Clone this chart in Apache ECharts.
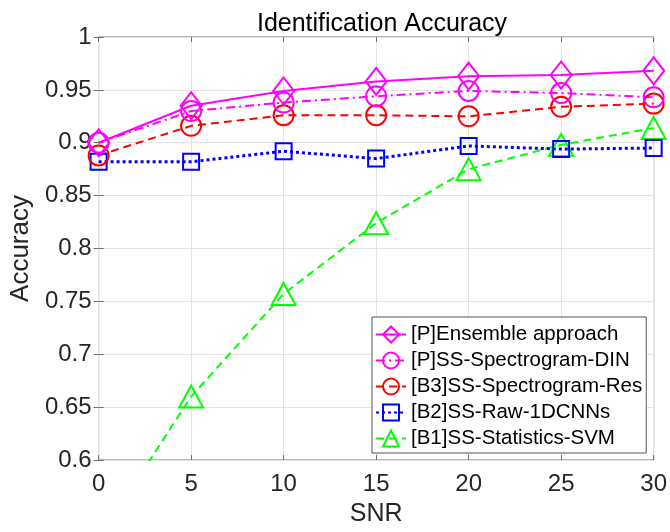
<!DOCTYPE html>
<html>
<head>
<meta charset="utf-8">
<script src="https://cdn.jsdelivr.net/npm/echarts@6/dist/echarts.min.js"></script>
<style>
  html, body { margin: 0; padding: 0; background: #fff; }
  #chart { width: 670px; height: 532px; }
</style>
</head>
<body>
<div id="chart"></div>
<script>
// SNR (dB) on the x axis
const snr = [0, 5, 10, 15, 20, 25, 30];

// accuracy per method
const ensemble = [0.900, 0.935, 0.949, 0.958, 0.963, 0.964, 0.968];
const spectrogramDin = [0.900, 0.930, 0.938, 0.944, 0.949, 0.947, 0.943];
const spectrogramRes = [0.888, 0.916, 0.926, 0.926, 0.925, 0.934, 0.937];
const raw1dcnn = [0.882, 0.882, 0.892, 0.885, 0.897, 0.894, 0.895];
const statisticsSvm = [0.525, 0.660, 0.757, 0.824, 0.875, 0.898, 0.914];

const font = 'Liberation Sans, Arial, sans-serif';
const textColor = '#262626';

// pair snr with values
const toPoints = (vals) => snr.map((x, i) => [x, vals[i]]);

function makeSeries(name, vals, color, lineType, width, symbol, size) {
  return {
    name,
    type: 'line',
    data: toPoints(vals),
    symbol,
    symbolSize: size,
    clip: true,
    lineStyle: { color, width, type: lineType },
    itemStyle: { color: 'rgba(0,0,0,0)', borderColor: color, borderWidth: 2 },
    emphasis: { disabled: true },
  };
}

const chart = echarts.init(document.getElementById('chart'));

const option = {
  animation: false,
  backgroundColor: '#fff',
  title: {
    text: 'Identification Accuracy',
    left: 377,
    textAlign: 'center',
    top: 7,
    textStyle: { fontFamily: font, fontSize: 25, fontWeight: 'normal', color: '#000' },
  },
  grid: {
    left: 98,
    right: 15,
    top: 37,
    bottom: 68,
    show: true,
    borderColor: '#6e6e6e',
    borderWidth: 1,
  },
  legend: {
    orient: 'vertical',
    left: 372,
    top: 317,
    itemWidth: 30,
    itemHeight: 20,
    itemGap: 5,
    padding: [7, 4, 4, 3],
    backgroundColor: '#fff',
    borderColor: '#555',
    borderWidth: 1,
    textStyle: { fontFamily: font, fontSize: 20.5, color: '#000' },
    data: [
      '[P]Ensemble approach',
      '[P]SS-Spectrogram-DIN',
      '[B3]SS-Spectrogram-Res',
      '[B2]SS-Raw-1DCNNs',
      '[B1]SS-Statistics-SVM',
    ],
  },
  xAxis: [
    {
      type: 'value',
      min: 0,
      max: 30,
      interval: 5,
      name: 'SNR',
      nameLocation: 'middle',
      nameGap: 42,
      nameTextStyle: { fontFamily: font, fontSize: 25, color: textColor },
      axisLine: { show: false },
      axisTick: { inside: true, length: 5, lineStyle: { color: '#6e6e6e' } },
      axisLabel: { fontFamily: font, fontSize: 24, color: textColor, margin: 12 },
      splitLine: { show: true, lineStyle: { color: '#e3e3e3', width: 1 } },
    },
    {
      type: 'value',
      position: 'top',
      min: 0,
      max: 30,
      interval: 5,
      axisLine: { show: false },
      axisTick: { inside: true, length: 5, lineStyle: { color: '#6e6e6e' } },
      axisLabel: { show: false },
      splitLine: { show: false },
    },
  ],
  yAxis: [
    {
      type: 'value',
      min: 0.6,
      max: 1,
      interval: 0.05,
      name: 'Accuracy',
      nameLocation: 'middle',
      nameGap: 53,
      nameTextStyle: { fontFamily: font, fontSize: 26, color: textColor },
      axisLine: { show: false },
      axisTick: { inside: true, length: 5, lineStyle: { color: '#6e6e6e' } },
      axisLabel: { fontFamily: font, fontSize: 24, color: textColor, margin: 7 },
      splitLine: { show: true, lineStyle: { color: '#e3e3e3', width: 1 } },
    },
    {
      type: 'value',
      position: 'right',
      min: 0.6,
      max: 1,
      interval: 0.05,
      axisLine: { show: false },
      axisTick: { inside: true, length: 5, lineStyle: { color: '#6e6e6e' } },
      axisLabel: { show: false },
      splitLine: { show: false },
    },
  ],
  series: [
    makeSeries('[B1]SS-Statistics-SVM', statisticsSvm, '#00ff00', [8, 5], 2, 'triangle', [24, 22]),
    makeSeries('[B2]SS-Raw-1DCNNs', raw1dcnn, '#0000ff', [3, 3], 3, 'rect', 16),
    makeSeries('[B3]SS-Spectrogram-Res', spectrogramRes, '#ff0000', [8, 5], 2, 'circle', 20),
    makeSeries('[P]SS-Spectrogram-DIN', spectrogramDin, '#ff00ff', [9, 4, 2, 4], 2, 'circle', 20),
    makeSeries('[P]Ensemble approach', ensemble, '#ff00ff', 'solid', 2, 'diamond', [21, 27]),
  ],
};

chart.setOption(option);
</script>
</body>
</html>
